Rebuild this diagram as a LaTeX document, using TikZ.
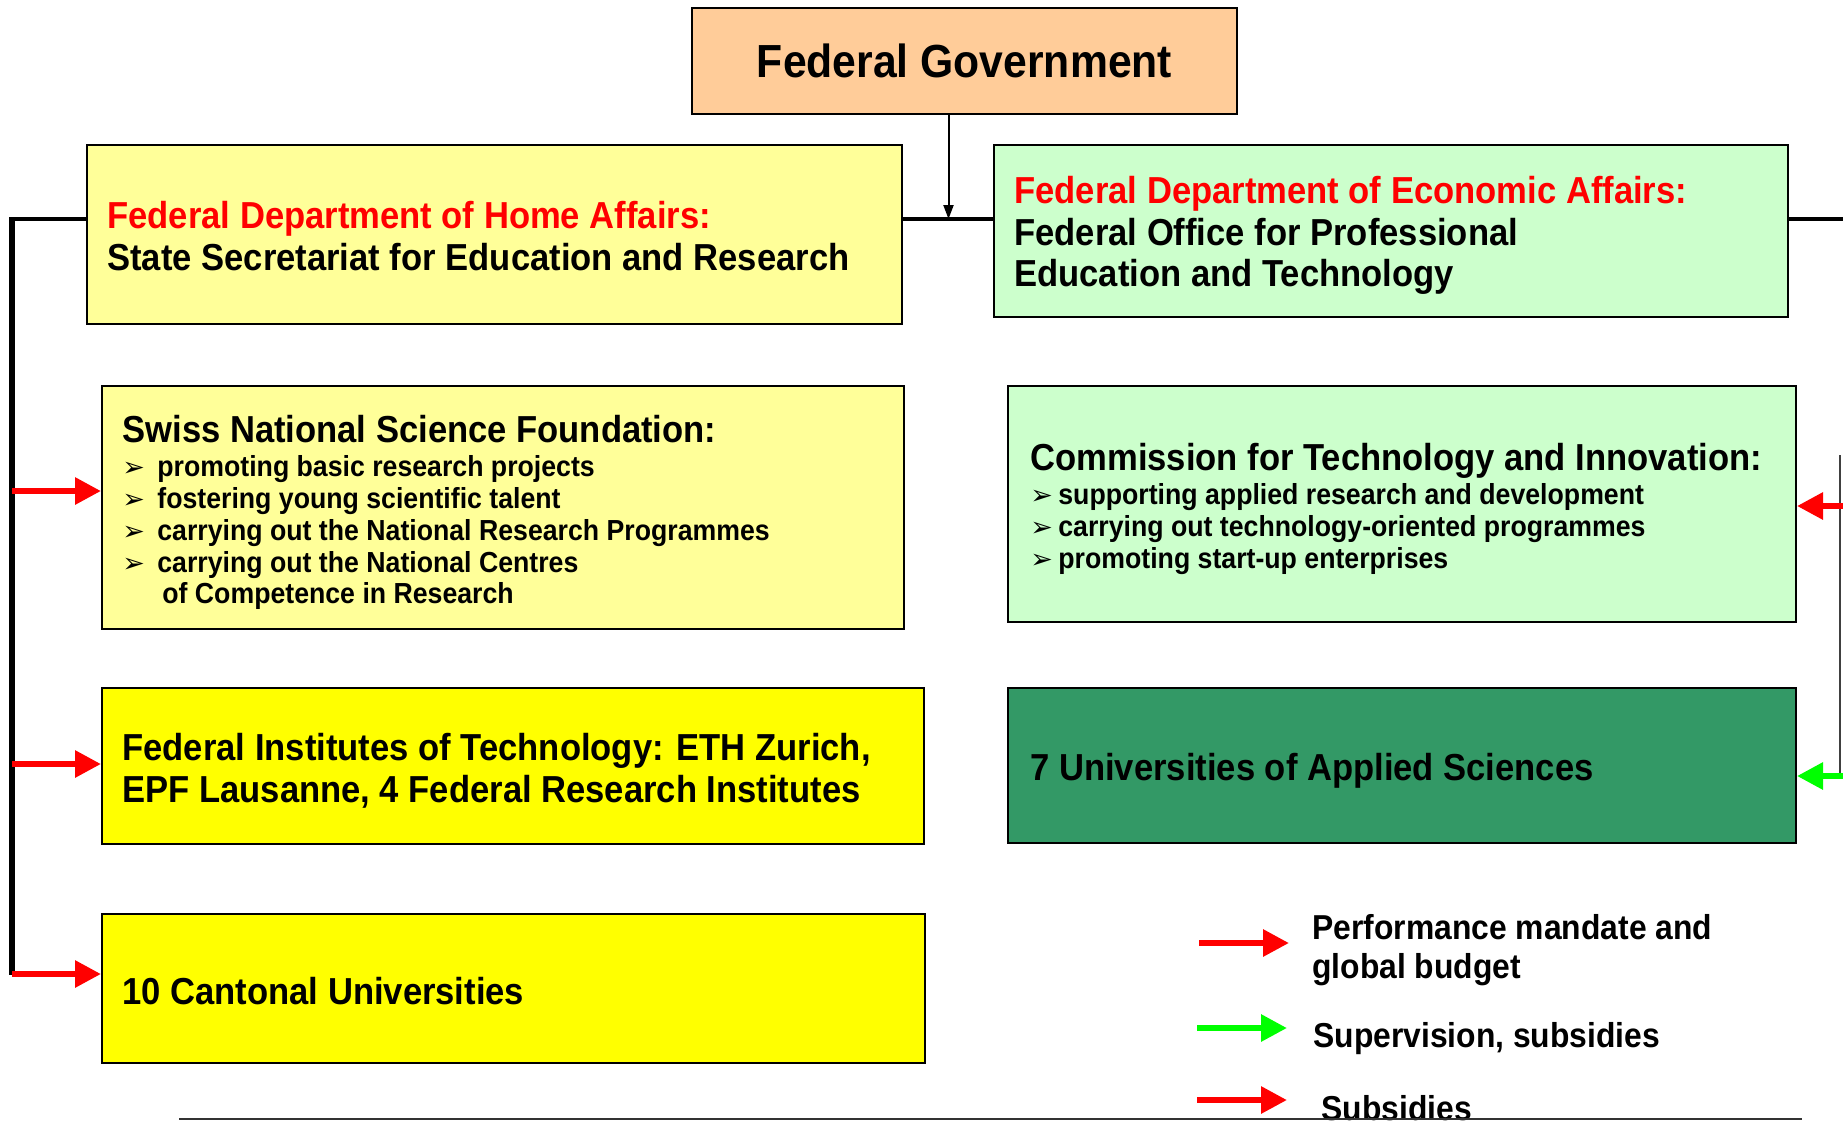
\documentclass[tikz,border=0pt]{standalone}
\usepackage{fontspec}
\setmainfont{Liberation Sans}[FakeStretch=0.92]
\newfontfamily\djv{DejaVu Sans}
\usetikzlibrary{arrows.meta}
\definecolor{peach}{HTML}{FFCC99}
\definecolor{lyellow}{HTML}{FFFF99}
\definecolor{lgreen}{HTML}{CCFFCC}
\definecolor{dgreen}{HTML}{339966}
\definecolor{byellow}{HTML}{FFFF00}
\definecolor{hred}{HTML}{FF0000}
\definecolor{hgreen}{HTML}{00FF00}
\newcommand{\hdsize}{\fontsize{18.8}{20.8}\selectfont}
\newcommand{\blsize}{\fontsize{14.5}{15.9}\selectfont}
\newcommand{\lgsize}{\fontsize{17.3}{19.5}\selectfont}
\newcommand{\bulmark}[1][17.5pt]{\makebox[#1][l]{\djv\mdseries\fontsize{13.5}{13.5}\selectfont ➢}}
\begin{document}
\begin{tikzpicture}[x=0.5pt,y=-0.5pt,
  box/.style={draw=black,line width=1pt,inner sep=0pt},
  txt/.style={inner sep=0pt,anchor=north west,align=left,font=\bfseries\hdsize},
  bultxt/.style={txt,font=\bfseries\blsize},
  lgtxt/.style={txt,font=\bfseries\lgsize},
  link/.style={line width=2pt,draw=black},
  fatred/.style={draw=hred,line width=3pt,-{Triangle[length=13pt,width=13pt]}},
  fatgreen/.style={draw=hgreen,line width=3pt,-{Triangle[length=13pt,width=13pt]}},
  thinarrow/.style={line width=1pt,draw=black,-{Triangle[length=7pt,width=5pt]}}
]
\useasboundingbox (0,0) rectangle (1843,1121);
\clip (0,0) rectangle (1843,1121);
\fill[white] (0,0) rectangle (1843,1121);

% boxes
\node[box,fill=peach,minimum width=272.5pt,minimum height=53pt,font=\bfseries\fontsize{23.2}{24}\selectfont] (fg) at (964.5,61) {Federal Government};
\node[box,fill=lyellow,minimum width=407.5pt,minimum height=89.5pt] (home) at (494.5,234.5) {};
\node[box,fill=lgreen,minimum width=397pt,minimum height=86pt] (eco) at (1391,231) {};
\node[box,fill=lyellow,minimum width=401pt,minimum height=121.5pt] (snsf) at (503,507.5) {};
\node[box,fill=lgreen,minimum width=394pt,minimum height=118pt] (cti) at (1402,504) {};
\node[box,fill=byellow,minimum width=411pt,minimum height=78pt] (fit) at (513,766) {};
\node[box,fill=dgreen,minimum width=394pt,minimum height=77.5pt] (uas) at (1402,765.5) {};
\node[box,fill=byellow,minimum width=411.5pt,minimum height=74.5pt] (cant) at (513.5,988.5) {};

% texts
\node[txt] (homet) at (107,201) {\textcolor{hred}{Federal Department of Home Affairs:}\\State Secretariat for Education and Research};
\node[txt] (ecot) at (1014,176) {\textcolor{hred}{Federal Department of Economic Affairs:}\\Federal Office for Professional\\Education and Technology};
\node[bultxt] (snsft) at (122,415) {{\hdsize Swiss National Science Foundation:}\\[1.1pt]
  \bulmark promoting basic research projects\\
  \bulmark fostering young scientific talent\\
  \bulmark carrying out the National Research Programmes\\
  \bulmark carrying out the National Centres\\
  \hspace*{20pt}of Competence in Research};
\node[bultxt] (ctit) at (1030,443) {{\hdsize Commission for Technology and Innovation:}\\[1.1pt]
  \bulmark[14pt]supporting applied research and development\\
  \bulmark[14pt]carrying out technology-oriented programmes\\
  \bulmark[14pt]promoting start-up enterprises};
\node[txt] (fitt) at (122,733) {Federal Institutes of Technology: ETH Zurich,\\EPF Lausanne, 4 Federal Research Institutes};
\node[txt] (uast) at (1030,753) {7 Universities of Applied Sciences};
\node[txt] (cantt) at (122,977) {10 Cantonal Universities};

% connectors
\coordinate (j) at (948.5,219);
\coordinate (lt) at (12,219);
\coordinate (lb) at (12,975);
\coordinate (rt) at (1845,219);
\draw[thinarrow] (fg.south -| j) -- (j);
\draw[link] (home.east |- j) -- (eco.west |- j);
\draw[link] (home.west |- j) -- (lt);
\draw[link,line width=3pt] ([yshift=1pt]lt) -- (lb);
\draw[link] (eco.east |- j) -- (rt);

\coordinate (a1) at (12,491);
\coordinate (a2) at (12,764);
\coordinate (a3) at (12,974);
\draw[fatred] (a1) -- (a1 -| snsf.west);
\draw[fatred] (a2) -- (a2 -| fit.west);
\draw[fatred] (a3) -- (a3 -| cant.west);

\coordinate (rv1) at (1840,455);
\coordinate (rv2) at (1840,777);
\draw[line width=0.8pt,draw=black!75] (rv1) -- (rv2);
\coordinate (b1) at (1845,506);
\coordinate (b2) at (1845,776);
\draw[fatred] (b1) -- (b1 -| cti.east);
\draw[fatgreen] (b2) -- (b2 -| uas.east);

% legend
\coordinate (l1s) at (1199,943); \coordinate (l1e) at (1289,943);
\coordinate (l2s) at (1197,1028); \coordinate (l2e) at (1287,1028);
\coordinate (l3s) at (1197,1100); \coordinate (l3e) at (1287,1100);
\draw[fatred] (l1s) -- (l1e);
\draw[fatgreen] (l2s) -- (l2e);
\draw[fatred] (l3s) -- (l3e);
\node[lgtxt] (lg1) at (1312,914) {Performance mandate and\\global budget};
\node[lgtxt] (lg2) at (1313,1022) {Supervision, subsidies};
\node[lgtxt] (lg3) at (1321,1095) {Subsidies};

\coordinate (bl1) at (179,1119);
\coordinate (bl2) at (1802,1119);
\draw[line width=0.8pt,draw=black!80] (bl1) -- (bl2);
\end{tikzpicture}
\end{document}
